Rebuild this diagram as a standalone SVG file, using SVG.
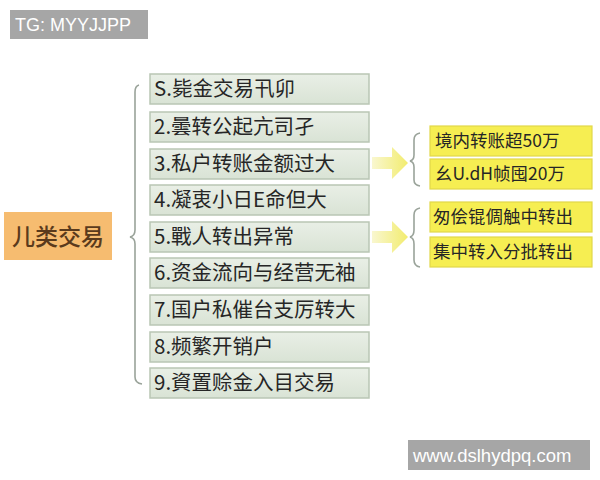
<svg xmlns="http://www.w3.org/2000/svg" width="600" height="480" viewBox="0 0 600 480">
<defs>
<linearGradient id="gbox" x1="0" y1="0" x2="0" y2="1">
<stop offset="0" stop-color="#e9efe6"/>
<stop offset="1" stop-color="#d9e3d5"/>
</linearGradient>
<linearGradient id="garr" x1="0" y1="0" x2="1" y2="0">
<stop offset="0" stop-color="#f9f7d0"/>
<stop offset="1" stop-color="#f2ec6e"/>
</linearGradient>
<style>
.g{fill:url(#gbox);stroke:#b9c6b4;stroke-width:1.5}
.gt{font-family:"Noto Sans CJK SC","Noto Sans",sans-serif;font-size:20.5px;font-weight:400;fill:#262626}
.y{fill:#f6ee52;stroke:#e2d84a;stroke-width:1.2}
.yt{font-family:"Noto Sans CJK SC","Noto Sans",sans-serif;font-size:17.5px;font-weight:400;fill:#262626}
.br{fill:none;stroke:#9aa39a;stroke-width:1.6}
.wm{fill:#a6a6a6}
.wt{font-family:"Liberation Sans",Arial,sans-serif;fill:#ffffff}
</style>
</defs>
<rect width="600" height="480" fill="#ffffff"/>
<g id="watermark-top"><rect class="wm" x="10" y="10" width="138" height="29"/><text class="wt" x="15" y="31" font-size="18">TG: MYYJJPP</text></g>
<g id="root"><rect x="4" y="212" width="108" height="48" fill="#f6bc70"/><text x="12" y="245" font-family="'Noto Sans CJK SC',sans-serif" font-size="23" font-weight="500" fill="#5a3a1c">儿类交易</text></g>
<g id="connectors">
<path class="br" d="M139,85 Q135,86 135,92 L135,230 Q135,236 130,237 Q135,238 135,244 L135,377 Q135,383 142,384"/>
<path class="br" d="M420,133 Q414,134 414,140 L414,155 Q414,160 410,161 Q414,162 414,167 L414,180 Q414,185 420,186"/>
<path class="br" d="M420,208 Q414,209 414,215 L414,230 Q414,236 410,237 Q414,238 414,244 L414,260 Q414,266 420,267"/>
<polygon fill="url(#garr)" points="372,157 392,157 392,147 408,163 392,179 392,169 372,169"/>
<polygon fill="url(#garr)" points="372,231 392,231 392,221 408,237 392,253 392,243 372,243"/>
</g>
<g id="n1"><rect class="g" x="150" y="74" width="219" height="30"/><text class="gt" x="154" y="96">S.毙金交易卂卯</text></g>
<g id="n2"><rect class="g" x="150" y="112" width="219" height="30"/><text class="gt" x="154" y="134">2.曇转公起亢司孑</text></g>
<g id="n3"><rect class="g" x="150" y="149" width="219" height="30"/><text class="gt" x="154" y="171">3.私户转账金额过大</text></g>
<g id="n4"><rect class="g" x="150" y="185" width="219" height="30"/><text class="gt" x="154" y="207">4.凝衷小日E命但大</text></g>
<g id="n5"><rect class="g" x="150" y="222" width="219" height="30"/><text class="gt" x="154" y="244">5.戰人转出异常</text></g>
<g id="n6"><rect class="g" x="150" y="258" width="219" height="30"/><text class="gt" x="154" y="280">6.资金流向与经营无袖</text></g>
<g id="n7"><rect class="g" x="150" y="295" width="219" height="30"/><text class="gt" x="154" y="317">7.国户私催台支厉转大</text></g>
<g id="n8"><rect class="g" x="150" y="332" width="219" height="30"/><text class="gt" x="154" y="354">8.频繁开销户</text></g>
<g id="n9"><rect class="g" x="150" y="368" width="219" height="30"/><text class="gt" x="154" y="390">9.資置赊金入目交易</text></g>
<g id="y1"><rect class="y" x="430" y="126" width="162" height="30"/><text class="yt" x="435" y="147">境内转账超50万</text></g>
<g id="y2"><rect class="y" x="430" y="159" width="162" height="30"/><text class="yt" x="435" y="180">幺U.dH帧囤20万</text></g>
<g id="y3"><rect class="y" x="430" y="202" width="162" height="30"/><text class="yt" x="433" y="223">匆侩锟倜触中转出</text></g>
<g id="y4"><rect class="y" x="430" y="237" width="162" height="30"/><text class="yt" x="433" y="258">集中转入分批转出</text></g>
<g id="watermark-bottom"><rect class="wm" x="408" y="440" width="182" height="30"/><text class="wt" x="413" y="462" font-size="18.5">www.dslhydpq.com</text></g>
</svg>
